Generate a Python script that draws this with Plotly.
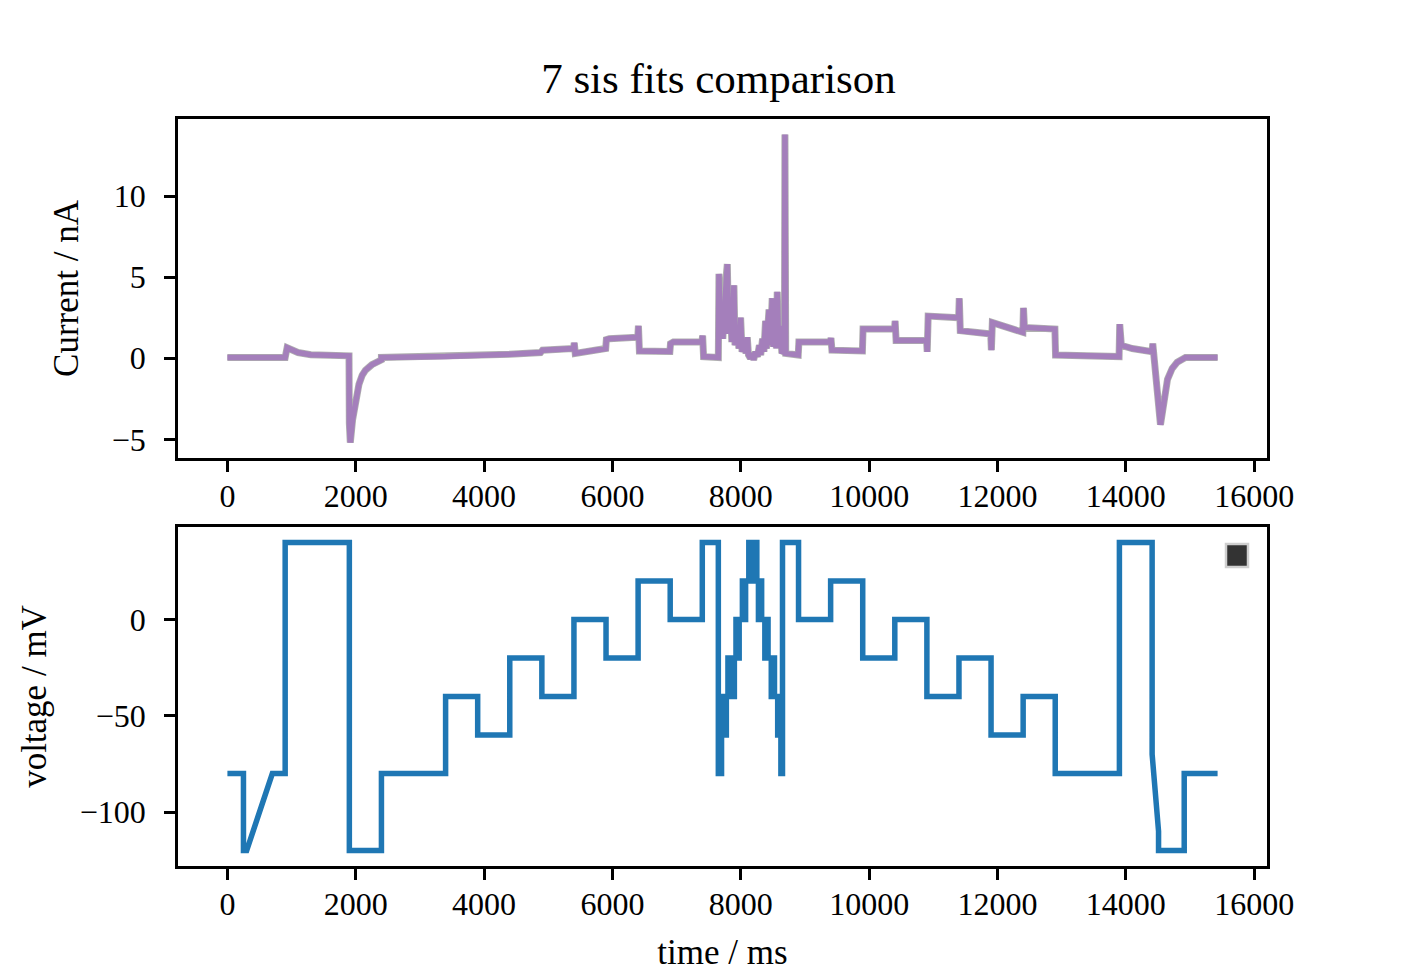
import plotly.graph_objects as go
from plotly.subplots import make_subplots

# voltage protocol: segments (start ms, end ms, V at start, V at end)
seg_start = [0, 250, 300, 700, 900, 1900, 2400, 3400, 3900, 4400, 4900, 5400, 5900, 6400, 6900, 7400, 7650]
seg_end = [250, 300, 700, 900, 1900, 2400, 3400, 3900, 4400, 4900, 5400, 5900, 6400, 6900, 7400, 7650, 7700]
seg_v0 = [-80, -120, -120, -80, 40, -120, -80, -40, -60, -20, -40, 0, -20, 20, 0, 40, -80]
seg_v1 = [-80, -120, -80, -80, 40, -120, -80, -40, -60, -20, -40, 0, -20, 20, 0, 40, -80]

# fast staircase in the middle, 25 ms per level
fast_t0 = 7700
fast_dt = 25
fast_levels = [-60, -40, -60, -40, -20, -40, -20, -40, -20, 0, -20, 0, 0, 20, 0, 20,
               20, 40, 20, 40, 40, 40, 20, 0, 20, 0, 0, -20, 0, -20, -20, -40, -20, -40,
               -40, -60, -60, -80]

seg_start2 = [8650, 8900, 9400, 9900, 10400, 10900, 11400, 11900, 12400, 12900, 13900, 14410, 14510, 14910]
seg_end2 = [8900, 9400, 9900, 10400, 10900, 11400, 11900, 12400, 12900, 13900, 14410, 14510, 14910, 15430]
seg_v02 = [40, 0, 20, -20, 0, -40, -20, -60, -40, -80, 40, -70, -120, -80]
seg_v12 = [40, 0, 20, -20, 0, -40, -20, -60, -40, -80, 40, -110, -120, -80]

cur_t = [0, 900, 930, 1000, 1100, 1300, 1600, 1895, 1900, 1915, 1950, 2000, 2050, 2100, 2150,
         2250, 2363, 2400, 2400, 3400, 4400, 4880, 4910, 5395, 5405, 5420, 5895, 5905, 5950,
         6395, 6405, 6420, 6895, 6905, 6950, 7395, 7405, 7420, 7650,
         7660, 7680, 7700, 7720, 7760, 7790, 7810, 7840, 7860, 7893, 7910, 7950, 7970, 7997,
         8020, 8060, 8080, 8101, 8120, 8150, 8180, 8200, 8230, 8260, 8290, 8310, 8340, 8360,
         8386, 8400, 8440, 8460, 8490, 8510, 8540, 8555, 8568, 8590, 8620, 8640, 8680, 8688,
         8700, 8895, 8905, 9395, 9405, 9420, 9895, 9905, 10395, 10405, 10420, 10895, 10905,
         10920, 11395, 11405, 11420, 11895, 11905, 11920, 12395, 12405, 12420, 12895, 12905,
         13895, 13905, 13930, 14100, 14410, 14420, 14540, 14600, 14650, 14722, 14800, 14930, 15430]
cur_i = [0.05, 0.05, 0.65, 0.55, 0.35, 0.22, 0.16, 0.15, -4.0, -5.2, -3.8, -2.6, -1.6, -1.05, -0.74,
         -0.4, -0.16, -0.1, 0.05, 0.1, 0.25, 0.35, 0.5, 0.6, 0.95, 0.3, 0.6, 1.15, 1.2,
         1.3, 2.0, 0.45, 0.42, 0.9, 1.0, 1.0, 1.4, 0.1, 0.05,
         5.2, 1.3, 3.0, 1.2, 4.5, 5.8, 1.5, 3.6, 1.0, 4.5, 0.8, 2.0, 0.6, 2.5,
         0.4, 1.0, 0.3, 1.3, 0.2, 0.0, 0.3, -0.1, 0.4, 0.1, 0.8, 0.2, 1.2, 0.4,
         2.3, 0.6, 3.0, 0.8, 3.7, 0.7, 2.5, 0.6, 4.1, 0.7, 2.0, 0.3, 0.5, 13.8,
         0.3, 0.2, 1.0, 1.0, 1.25, 0.5, 0.45, 1.8, 1.8, 2.3, 1.1, 1.1, 0.39,
         2.6, 2.5, 3.7, 1.7, 1.5, 0.5, 2.2, 1.6, 3.1, 1.9, 1.8, 0.2,
         0.1, 2.1, 0.8, 0.6, 0.4, 0.9, -4.1, -2.5, -1.3, -0.63, -0.25, 0.05, 0.05]

x_ticks = [0, 2000, 4000, 6000, 8000, 10000, 12000, 14000, 16000]

# build the protocol polyline
v_t, v_v = [], []
for a, b, v0, v1 in zip(seg_start, seg_end, seg_v0, seg_v1):
    v_t += [a, b]
    v_v += [v0, v1]
for k, lev in enumerate(fast_levels):
    v_t += [fast_t0 + k * fast_dt, fast_t0 + (k + 1) * fast_dt]
    v_v += [lev, lev]
for a, b, v0, v1 in zip(seg_start2, seg_end2, seg_v02, seg_v12):
    v_t += [a, b]
    v_v += [v0, v1]

FONT = "Liberation Serif"
W, H = 1405, 975
L, T = 170, 111
PW, PH = 1089, 747
R, B = W - L - PW, H - T - PH

fig = make_subplots(rows=2, cols=1)
fig.update_layout(
    yaxis=dict(domain=[408 / PH, 1]),
    yaxis2=dict(domain=[0, 339 / PH]),
)

# fitted traces underneath (grey), data on top (purple)
fig.add_trace(go.Scatter(x=cur_t, y=cur_i, mode="lines",
                         line=dict(color="#9c9c9c", width=7), opacity=0.8,
                         showlegend=False, hoverinfo="skip"), row=1, col=1)
fig.add_trace(go.Scatter(x=cur_t, y=cur_i, mode="lines",
                         line=dict(color="#a47fbb", width=5.5),
                         showlegend=False), row=1, col=1)
fig.add_trace(go.Scatter(x=v_t, y=v_v, mode="lines",
                         line=dict(color="#1f77b4", width=5.5),
                         showlegend=False), row=2, col=1)

axis_common = dict(showline=True, mirror=True, linecolor="black", linewidth=2.5,
                   ticks="outside", ticklen=11, tickwidth=2.5, tickcolor="black",
                   showgrid=False, zeroline=False,
                   tickfont=dict(family=FONT, size=32, color="black"))
title_font = dict(family=FONT, size=35, color="black")

for r in (1, 2):
    fig.update_xaxes(range=[-770, 16200], tickvals=x_ticks,
                     ticktext=[str(v) for v in x_ticks], ticklabelstandoff=-3,
                     **axis_common, row=r, col=1)
fig.update_xaxes(title=dict(text="time / ms", font=title_font, standoff=19), row=2, col=1)

fig.update_yaxes(range=[-6.15, 14.75], tickvals=[-5, 0, 5, 10],
                 ticktext=["\u22125", "0", "5", "10"], ticklabelstandoff=12,
                 title=dict(text="Current / nA", font=title_font, standoff=23),
                 **axis_common, row=1, col=1)
fig.update_yaxes(range=[-128, 48], tickvals=[-100, -50, 0],
                 ticktext=["\u2212100", "\u221250", "0"], ticklabelstandoff=12,
                 title=dict(text="voltage / mV", font=title_font, standoff=23),
                 **axis_common, row=2, col=1)

# empty legend box at top right of lower panel
fig.add_shape(type="rect", xref="x2 domain", yref="y2 domain",
              x0=1048 / PW, x1=1070 / PW,
              y0=299 / 339, y1=322 / 339,
              fillcolor="#333333", line=dict(color="#cfcfcf", width=2.5))

fig.update_layout(
    width=W, height=H,
    margin=dict(l=L, r=R, t=T, b=B),
    paper_bgcolor="white", plot_bgcolor="white",
    title=dict(text="7 sis fits comparison", x=(L + PW / 2 - 4) / W, xanchor="center",
               y=1 - 70 / H, yanchor="middle",
               font=dict(family=FONT, size=43, color="black")),
)

fig.write_html("out.html")
